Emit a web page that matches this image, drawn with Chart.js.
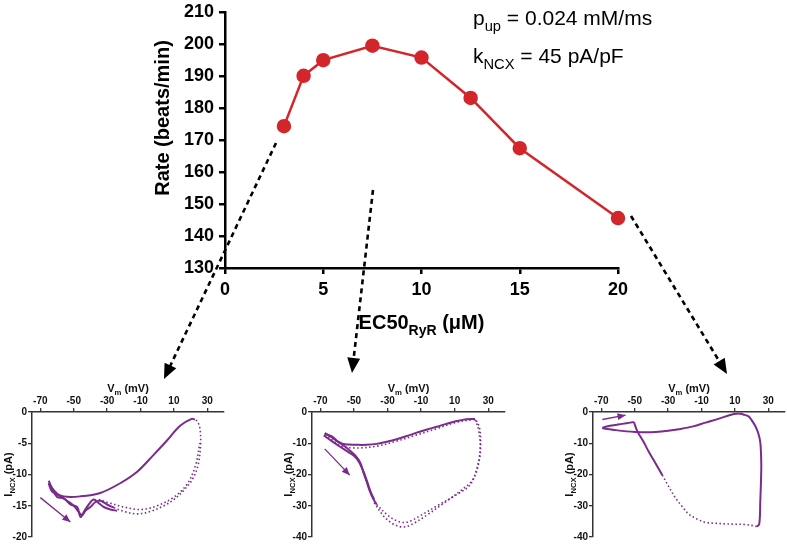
<!DOCTYPE html>
<html>
<head>
<meta charset="utf-8">
<script src="https://cdn.jsdelivr.net/npm/chart.js@4.4.1/dist/chart.umd.min.js"></script>
<style>
  body { margin: 0; background: #fff; }
  #page { position: relative; width: 787px; height: 544px; overflow: hidden; }
  canvas { position: absolute; }
</style>
</head>
<body>
<div id="page">
  <canvas id="mainChart" width="787" height="344" style="left:0;top:-4px"></canvas>
  <canvas id="loop1" width="245" height="174" style="left:0;top:370px"></canvas>
  <canvas id="loop2" width="245" height="174" style="left:270px;top:370px"></canvas>
  <canvas id="loop3" width="247" height="174" style="left:540px;top:370px"></canvas>
  <canvas id="overlay" width="787" height="544" style="left:0;top:0;pointer-events:none"></canvas>
</div>
<script>
// main panel: beating rate vs EC50 of RyR
const ec50 = [3, 4, 5, 7.5, 10, 12.5, 15, 20];
const rate = [174.3, 190, 194.9, 199.4, 195.7, 183.1, 167.4, 145.6];
const rateTicks = [130, 140, 150, 160, 170, 180, 190, 200, 210];
const ec50Ticks = [0, 5, 10, 15, 20];

// loop panels (I_NCX vs Vm)
const vmTicks = [-70, -50, -30, -10, 10, 30];
const incxTicks1 = [0, -5, -10, -15, -20];
const incxTicks2 = [0, -10, -20, -30, -40];

// EC50 = 3
const l1_upV = [22.6, 20.6, 13.7, 5.7, -2.3, -12.2, -22.2, -34.1, -46.1, -56, -63, -65];
const l1_upI = [-1.2, -1.1, -2.2, -4.6, -6.9, -9.6, -11.4, -12.95, -13.5, -13.5, -12.7, -11.4];
const l1_jagV = [-65, -62, -58, -54, -50, -47, -45, -43, -40, -37, -34, -30, -26];
const l1_jagI = [-11.4, -12.5, -13.5, -14.2, -15, -16, -16.5, -15.8, -15.2, -14.4, -14.2, -14.8, -15.3];
const l1_jag2V = [-65, -63, -60, -56, -52, -48, -46, -44, -41, -38, -35, -32, -28, -24];
const l1_jag2I = [-11, -12.2, -13.6, -13.8, -14.8, -15.2, -16.8, -16, -14.8, -14, -14.6, -15.2, -15.6, -15.8];
const l1_fastV = [-26, -20, -12, -4, 4, 10, 16, 21, 24.5, 26, 25.5, 24, 22.6];
const l1_fastI = [-15.3, -15.9, -16.3, -15.9, -15, -14, -12.5, -10.8, -8.5, -5, -2.5, -1.5, -1.2];
const l1_fast2V = [-35, -28, -20, -10, 0, 10, 18, 23, 25.5];
const l1_fast2I = [-14, -14.6, -15.2, -15.6, -15, -13.6, -11.5, -8.5, -5];

// EC50 = 7.5
const l2_upV = [22.2, 17, 11.3, 5, -0.7, -6.5, -12.6, -18.5, -24.6, -30.5, -36.5, -42.5, -48.5, -53, -56.5, -60, -62.4, -66.4, -67.4];
const l2_upI = [-2.2, -2.3, -2.9, -3.8, -4.7, -5.6, -6.6, -7.7, -8.7, -9.5, -10.2, -10.5, -10.5, -10.4, -10.2, -9.3, -8.1, -7.1, -6.8];
const l2_up2V = [22, 11, -1, -13, -25, -37, -48, -57, -63, -67];
const l2_up2I = [-2.4, -3.3, -5.4, -7.4, -9.4, -11, -11.5, -11, -9, -7.2];
const l2_downV = [-67.4, -64, -60.4, -56, -52.5, -48.5, -46, -44.5, -42.5, -40.5, -38.5, -36.5];
const l2_downI = [-6.8, -7.8, -9.2, -10.8, -12.3, -14.4, -16.5, -19.1, -22.2, -25.4, -27.8, -29.6];
const l2_down2V = [-68, -63, -58, -54, -50, -47, -44, -42, -40, -38];
const l2_down2I = [-7.5, -9.4, -11.2, -12.6, -14, -16, -19.5, -22.5, -25.6, -28];
const l2_fastV = [-36.5, -30.6, -24.6, -18.6, -10.6, -0.7, 11.3, 19.2, 23.2, 25.2, 24.2, 22.2];
const l2_fastI = [-29.6, -32.7, -34.8, -35.3, -33.2, -30.1, -26.4, -23.3, -18.1, -11.8, -5.5, -2.4];
const l2_fast2V = [-38, -32, -26, -20, -14, -6, 4, 14, 21, 24.5, 25.5, 24.8, 22.5];
const l2_fast2I = [-29, -33.5, -36, -36.8, -35.5, -32.8, -29, -25, -21.5, -16, -10, -5, -2.3];

// EC50 = 20
const l3_topV = [-69.4, -65, -60, -55, -50.5];
const l3_topI = [-5, -4.4, -4, -3.6, -3.2];
const l3_dropV = [-50.5, -48.5, -45, -41.5, -37.5, -33.5];
const l3_dropI = [-3.2, -6.1, -9.3, -12.8, -16.5, -20.2];
const l3_fastV = [-33.5, -29.5, -25.6, -21.5, -17.6, -12.5, -7.6, -2, 4.3, 10, 16.3, 21, 23.2];
const l3_fastI = [-20.2, -24, -27.5, -30.3, -32.7, -34.3, -35.3, -35.6, -35.8, -35.9, -36, -36.4, -36.7];
const l3_rightV = [23.2, 24.6, 25.2, 25.8, 25.6, 25.2, 24, 22.2, 20, 18.2, 15, 12.3];
const l3_rightI = [-36.7, -35.8, -28.5, -18.1, -13, -9.7, -6.8, -4.5, -2.6, -1.4, -0.8, -0.5];
const l3_backV = [12.3, 8.3, 0, -7.6, -15, -23.6, -30, -37.5, -43, -49.5, -55, -61.4, -65, -68.4, -69.4];
const l3_backI = [-0.5, -0.8, -2.2, -3.4, -4.6, -5.5, -6, -6.4, -6.5, -6.4, -6.2, -5.8, -5.5, -5.3, -5];

const FONT = "'Liberation Sans', Arial, Helvetica, sans-serif";
const PURPLE = '#7a2b8c';
const RED = '#d3262b';
const MAIN_SHIFT = 4; // main canvas sits 4px above the page top

function pts(xs, ys) { return xs.map((x, i) => ({ x: x, y: ys[i] })); }

// text with subscripts: parts = [[text, isSub], ...]
function richWidth(ctx, parts, size, weight) {
    let w = 0;
    parts.forEach(p => {
        ctx.font = weight + ' ' + (p[1] ? size * 0.7 : size) + 'px ' + FONT;
        w += ctx.measureText(p[0]).width;
    });
    return w;
}
function drawRich(ctx, parts, x, y, size, weight, align) {
    const w = richWidth(ctx, parts, size, weight);
    let cx = align === 'center' ? x - w / 2 : x;
    ctx.textBaseline = 'alphabetic';
    ctx.textAlign = 'left';
    parts.forEach(p => {
        const s = p[1] ? size * 0.7 : size;
        ctx.font = weight + ' ' + s + 'px ' + FONT;
        ctx.fillText(p[0], cx, p[1] ? y + size * 0.28 : y);
        cx += ctx.measureText(p[0]).width;
    });
}

function arrowHead(ctx, x1, y1, x2, y2, len, half) {
    const a = Math.atan2(y2 - y1, x2 - x1);
    ctx.beginPath();
    ctx.moveTo(x2, y2);
    ctx.lineTo(x2 - len * Math.cos(a) + half * Math.sin(a), y2 - len * Math.sin(a) - half * Math.cos(a));
    ctx.lineTo(x2 - len * Math.cos(a) - half * Math.sin(a), y2 - len * Math.sin(a) + half * Math.cos(a));
    ctx.closePath();
    ctx.fill();
}

const mainText = {
    id: 'mainText',
    afterDraw(chart) {
        const ctx = chart.ctx, a = chart.chartArea;
        ctx.save();
        ctx.fillStyle = '#000';
        ctx.translate(163, 118 + MAIN_SHIFT);
        ctx.rotate(-Math.PI / 2);
        ctx.font = 'bold 20px ' + FONT;
        ctx.textAlign = 'center';
        ctx.textBaseline = 'middle';
        ctx.fillText('Rate (beats/min)', 0, 0);
        ctx.restore();
        ctx.save();
        ctx.fillStyle = '#000';
        drawRich(ctx, [['EC50', false], ['RyR', true], [' (\u03bcM)', false]], (a.left + a.right) / 2, 329 + MAIN_SHIFT, 20, 'bold', 'center');
        drawRich(ctx, [['p', false], ['up', true], [' = 0.024 mM/ms', false]], 473, 25 + MAIN_SHIFT, 21, 'normal', 'left');
        drawRich(ctx, [['k', false], ['NCX', true], [' = 45 pA/pF', false]], 473, 63 + MAIN_SHIFT, 21, 'normal', 'left');
        ctx.restore();
    }
};

new Chart(document.getElementById('mainChart'), {
    type: 'line',
    data: {
        datasets: [{
            data: pts(ec50, rate),
            borderColor: RED,
            backgroundColor: RED,
            borderWidth: 2.5,
            pointRadius: 6,
            pointHoverRadius: 6,
            tension: 0,
            clip: false
        }]
    },
    options: {
        responsive: false,
        animation: false,
        layout: { padding: { left: 150, right: 169, top: 4, bottom: 0 } },
        plugins: { legend: { display: false }, tooltip: { enabled: false } },
        scales: {
            x: {
                type: 'linear', min: 0, max: 20,
                afterBuildTicks: s => { s.ticks = ec50Ticks.map(v => ({ value: v })); },
                afterFit: s => { s.height = 72; },
                ticks: { color: '#000', font: { family: FONT, size: 18, weight: 'bold' }, padding: 5 },
                grid: { drawOnChartArea: false, color: '#000', lineWidth: 2.5, tickLength: 6 },
                border: { color: '#000', width: 2.5 }
            },
            y: {
                min: 130, max: 210,
                afterBuildTicks: s => { s.ticks = rateTicks.map(v => ({ value: v })); },
                afterFit: s => { s.width = 75; },
                ticks: { color: '#000', font: { family: FONT, size: 18, weight: 'bold' }, padding: 5 },
                grid: { drawOnChartArea: false, color: '#000', lineWidth: 2.5, tickLength: 6 },
                border: { color: '#000', width: 2.5 }
            }
        }
    },
    plugins: [mainText]
});

function loopPanel(id, axisWidth, padRight, iMin, iTicks, sets, arrow) {
    const loopText = {
        id: 'loopText',
        afterDraw(chart) {
            const ctx = chart.ctx, a = chart.chartArea;
            const sx = chart.scales.x, sy = chart.scales.y;
            ctx.save();
            ctx.fillStyle = '#111';
            drawRich(ctx, [['V', false], ['m', true], [' (mV)', false]], (a.left + a.right) / 2, 22, 11, 'bold', 'center');
            ctx.translate(a.left - 24, (a.top + a.bottom) / 2);
            ctx.rotate(-Math.PI / 2);
            drawRich(ctx, [['I', false], ['NCX', true], [' (pA)', false]], 0, 4, 11, 'bold', 'center');
            ctx.restore();
            // direction arrow
            ctx.save();
            const x1 = sx.getPixelForValue(arrow[0]), y1 = sy.getPixelForValue(arrow[1]);
            const x2 = sx.getPixelForValue(arrow[2]), y2 = sy.getPixelForValue(arrow[3]);
            ctx.strokeStyle = PURPLE;
            ctx.fillStyle = PURPLE;
            ctx.lineWidth = 1.3;
            ctx.beginPath();
            ctx.moveTo(x1, y1);
            ctx.lineTo(x2, y2);
            ctx.stroke();
            arrowHead(ctx, x1, y1, x2, y2, 8, 3.5);
            ctx.restore();
        }
    };
    new Chart(document.getElementById(id), {
        type: 'line',
        data: {
            datasets: sets.map(s => ({
                data: pts(s[0], s[1]),
                borderColor: PURPLE,
                borderWidth: s[2] ? 1.6 : 2,
                borderDash: s[2] ? [1.5, 2.5] : [],
                pointRadius: 0,
                tension: 0.35,
                fill: false
            }))
        },
        options: {
            responsive: false,
            animation: false,
            layout: { padding: { left: 0, right: padRight, top: 0, bottom: 4 } },
            plugins: { legend: { display: false }, tooltip: { enabled: false } },
            scales: {
                x: {
                    type: 'linear', position: 'top', min: -75, max: 40,
                    afterBuildTicks: s => { s.ticks = vmTicks.map(v => ({ value: v })); },
                    afterFit: s => { s.height = 42; },
                    ticks: { color: '#111', font: { family: FONT, size: 10, weight: 'bold' }, padding: 1, maxRotation: 0 },
                    grid: { drawOnChartArea: false, color: '#333', lineWidth: 1.3, tickLength: 4 },
                    border: { color: '#333', width: 1.5 }
                },
                y: {
                    min: iMin, max: 0,
                    afterBuildTicks: s => { s.ticks = iTicks.map(v => ({ value: v })); },
                    afterFit: s => { s.width = axisWidth; },
                    ticks: { color: '#111', font: { family: FONT, size: 10, weight: 'bold' }, padding: 1 },
                    grid: { drawOnChartArea: false, color: '#333', lineWidth: 1.3, tickLength: 4 },
                    border: { color: '#333', width: 1.5 }
                }
            }
        },
        plugins: [loopText]
    });
}

loopPanel('loop1', 32, 21, -20, incxTicks1, [
    [l1_upV, l1_upI, false],
    [l1_jagV, l1_jagI, false],
    [l1_jag2V, l1_jag2I, false],
    [l1_fastV, l1_fastI, true],
    [l1_fast2V, l1_fast2I, true]
], [-70, -13.7, -52, -17.6]);

loopPanel('loop2', 42, 10, -40, incxTicks2, [
    [l2_upV, l2_upI, false],
    [l2_up2V, l2_up2I, true],
    [l2_downV, l2_downI, false],
    [l2_down2V, l2_down2I, false],
    [l2_fastV, l2_fastI, true],
    [l2_fast2V, l2_fast2I, true]
], [-67.4, -11.8, -52.5, -20.2]);

loopPanel('loop3', 53, 2, -40, incxTicks2, [
    [l3_topV, l3_topI, false],
    [l3_dropV, l3_dropI, false],
    [l3_fastV, l3_fastI, true],
    [l3_rightV, l3_rightI, false],
    [l3_backV, l3_backI, false]
], [-69.4, -2.4, -55.5, -1.0]);

// dashed connectors from the main panel to the loops
(function () {
    const ctx = document.getElementById('overlay').getContext('2d');
    const links = [[276, 143, 164, 379], [373, 190, 352, 373], [631, 216, 727, 374]];
    ctx.strokeStyle = '#000';
    ctx.fillStyle = '#000';
    ctx.lineWidth = 2.6;
    links.forEach(l => {
        const a = Math.atan2(l[3] - l[1], l[2] - l[0]);
        const ex = l[2] - 12 * Math.cos(a), ey = l[3] - 12 * Math.sin(a);
        ctx.setLineDash([5, 4]);
        ctx.beginPath();
        ctx.moveTo(l[0], l[1]);
        ctx.lineTo(ex, ey);
        ctx.stroke();
        ctx.setLineDash([]);
        arrowHead(ctx, l[0], l[1], l[2], l[3], 15, 6.5);
    });
})();
</script>
</body>
</html>
